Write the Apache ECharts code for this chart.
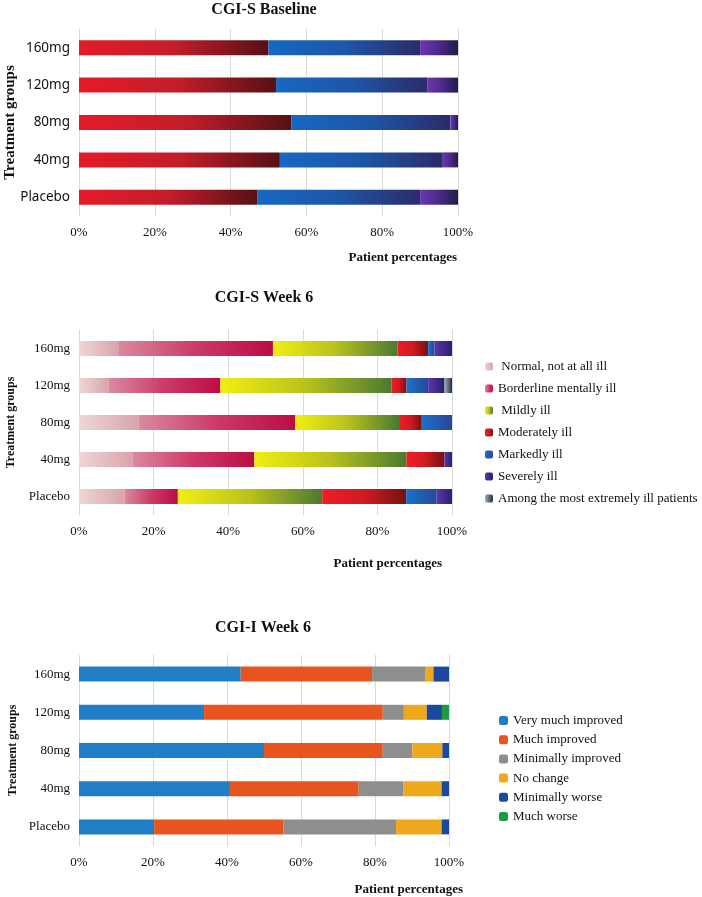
<!DOCTYPE html>
<html lang="en">

	<head>
		<meta charset="UTF-8">
		<title>CGI-S / CGI-I</title>
		<style>
			* {
				margin: 0;
				padding: 0;
			}

			html,
			body {
				width: 100%;
				height: 100%;
				background: #fff;
			}

			#chart {
				width: 702px;
				height: 897px;
			}
		</style>
	</head>

	<body>
		<div id="chart"></div>
		<script src="https://cdn.jsdelivr.net/npm/echarts@6/dist/echarts.min.js"></script>
		<script>
			// groups, bottom to top
			var groups = ['Placebo', '40mg', '80mg', '120mg', '160mg']
			var ticks = [0, 20, 40, 60, 80, 100]

			// CGI-S baseline (%)
			var baseModerate = [47, 53, 56, 52, 50]
			var baseMarked = [43, 43, 42, 40, 40]
			var baseSevere = [10, 4, 2, 8, 10]

			// CGI-S week 6 (%)
			var sNames = ['Normal, not at all ill', 'Borderline mentally ill', 'Mildly ill', 'Moderately ill',
				'Markedly ill', 'Severely ill', 'Among the most extremely ill patients'
			]
			var sNormal = [12.2, 14.3, 16.0, 8.0, 10.5]
			var sBorderline = [14.3, 32.7, 42.0, 29.9, 41.5]
			var sMild = [38.7, 40.8, 27.8, 45.9, 33.4]
			var sModerate = [22.5, 10.2, 6.1, 4.0, 8.2]
			var sMarked = [8.2, 0, 8.1, 5.8, 1.7]
			var sSevere = [4.1, 2.0, 0, 4.4, 4.7]
			var sExtreme = [0, 0, 0, 2.0, 0]

			// CGI-I week 6 (%)
			var iNames = ['Very much improved', 'Much improved', 'Minimally improved', 'No change', 'Minimally worse',
				'Much worse'
			]
			var iVeryMuch = [20.3, 40.8, 50.0, 33.8, 43.7]
			var iMuch = [34.9, 34.8, 32.1, 48.3, 35.5]
			var iMinimal = [30.5, 12.0, 8.0, 5.7, 14.5]
			var iNoChange = [12.3, 10.4, 8.1, 6.2, 2.1]
			var iMinWorse = [2.0, 2.0, 1.8, 4.1, 4.2]
			var iMuchWorse = [0, 0, 0, 1.9, 0]

			var serif = 'Liberation Serif'

			function grad(c0, c1, c2) {
				var stops = c2 ? [{ offset: 0, color: c0 }, { offset: 0.5, color: c1 }, { offset: 1, color: c2 }] :
					[{ offset: 0, color: c0 }, { offset: 1, color: c1 }]
				return new echarts.graphic.LinearGradient(0, 0, 1, 0, stops)
			}

			function bar(name, data, idx, color) {
				return {
					name: name,
					type: 'bar',
					stack: 'p' + idx,
					xAxisIndex: idx,
					yAxisIndex: idx,
					barWidth: 15,
					data: data,
					itemStyle: { color: color }
				}
			}

			function xAxis(idx, namePad) {
				return {
					gridIndex: idx,
					type: 'value',
					min: ticks[0],
					max: ticks[ticks.length - 1],
					interval: 20,
					axisLine: { show: false },
					axisTick: { show: false },
					splitLine: { lineStyle: { color: '#d9d9d9', width: 1 } },
					axisLabel: { formatter: '{value}%', fontFamily: serif, fontSize: 13, color: '#111', margin: 10 },
					name: 'Patient percentages',
					nameLocation: 'end',
					nameGap: namePad[0],
					nameMoveOverlap: false,
					nameTextStyle: {
						fontFamily: serif,
						fontWeight: 'bold',
						fontSize: 13,
						color: '#111',
						align: 'right',
						verticalAlign: 'top',
						padding: [namePad[1], 0, 0, 0]
					}
				}
			}

			function yAxis(idx, font, size, nameSize, nameGap) {
				return {
					gridIndex: idx,
					type: 'category',
					data: groups,
					axisLine: { show: false },
					axisTick: { show: false },
					axisLabel: { fontFamily: font, fontSize: size, color: '#111', margin: 9 },
					name: 'Treatment groups',
					nameLocation: 'middle',
					nameGap: nameGap,
					nameMoveOverlap: false,
					nameTextStyle: { fontFamily: serif, fontWeight: 'bold', fontSize: nameSize, color: '#111' }
				}
			}

			var titleStyle = { fontFamily: serif, fontWeight: 'bold', fontSize: 16, color: '#111' }

			var legendBase = {
				orient: 'vertical',
				padding: 0,
				textStyle: { fontFamily: serif, fontSize: 13, color: '#111' }
			}

			var gridBase = { containLabel: false, outerBoundsMode: 'none' }

			var option = {
				animation: false,
				title: [
					{ text: 'CGI-S Baseline', left: 264, top: 2, textAlign: 'center', padding: 0, textStyle: titleStyle },
					{ text: 'CGI-S Week 6', left: 264, top: 290, textAlign: 'center', padding: 0, textStyle: titleStyle },
					{ text: 'CGI-I Week 6', left: 263, top: 620, textAlign: 'center', padding: 0, textStyle: titleStyle }
				],
				legend: [
					Object.assign({}, legendBase, {
						left: 485,
						top: 360,
						itemWidth: 8,
						itemHeight: 8,
						itemGap: 9,
						data: sNames,
						formatter: function(name) {
							return (name === 'Normal, not at all ill' || name === 'Mildly ill') ? ' ' + name : name
						}
					}),
					Object.assign({}, legendBase, {
						left: 499,
						top: 714,
						itemWidth: 9,
						itemHeight: 9,
						itemGap: 6.2,
						data: iNames
					})
				],
				grid: [
					Object.assign({ left: 79, right: 244, top: 29, height: 187 }, gridBase),
					Object.assign({ left: 79, right: 250, top: 330, height: 185 }, gridBase),
					Object.assign({ left: 79, right: 253, top: 655, height: 191 }, gridBase)
				],
				xAxis: [xAxis(0, [-1, 35]), xAxis(1, [-10, 42]), xAxis(2, [14, 37])],
				yAxis: [
					yAxis(0, 'Noto Sans', 13.5, 15, 61),
					yAxis(1, serif, 13, 12, 62),
					yAxis(2, serif, 13, 12, 60)
				],
				series: [
					bar('Baseline moderately ill', baseModerate, 0, grad('#e51b29', '#c41d2a', '#561015')),
					bar('Baseline markedly ill', baseMarked, 0, grad('#1668c2', '#1d56a8', '#2a2c68')),
					bar('Baseline severely ill', baseSevere, 0, grad('#6b36b2', '#4a2a88', '#201c48')),

					bar(sNames[0], sNormal, 1, grad('#eed6d6', '#d9a3ac')),
					bar(sNames[1], sBorderline, 1, grad('#da8aa0', '#cc3a66', '#bc0c44')),
					bar(sNames[2], sMild, 1, grad('#f2ee12', '#b8c21c', '#4a7a32')),
					bar(sNames[3], sModerate, 1, grad('#ee1d26', '#d01a22', '#761012')),
					bar(sNames[4], sMarked, 1, grad('#1a72cc', '#2a4694')),
					bar(sNames[5], sSevere, 1, grad('#5c36aa', '#2a1e70')),
					bar(sNames[6], sExtreme, 1, grad('#a0aebc', '#1e3040')),

					bar(iNames[0], iVeryMuch, 2, '#1f7ec6'),
					bar(iNames[1], iMuch, 2, '#e8541e'),
					bar(iNames[2], iMinimal, 2, '#8e8e8e'),
					bar(iNames[3], iNoChange, 2, '#efa81c'),
					bar(iNames[4], iMinWorse, 2, '#1d48a0'),
					bar(iNames[5], iMuchWorse, 2, '#1c9a44')
				]
			}

			var myChart = echarts.init(document.getElementById('chart'))
			myChart.setOption(option)
		</script>
	</body>

</html>
